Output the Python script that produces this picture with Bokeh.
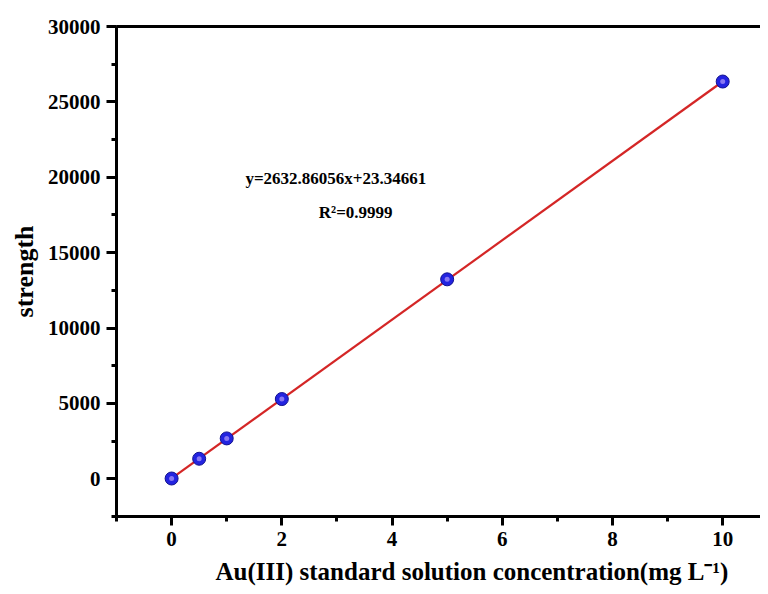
from bokeh.plotting import figure
from bokeh.models import Range1d, LinearAxis, Label, SingleIntervalTicker, FixedTicker, Title
from bokeh.embed import file_html
from bokeh.resources import INLINE

# data
conc = [0, 0.5, 1, 2, 5, 10]
strength = [20, 1330, 2680, 5290, 13230, 26350]
slope = 2632.86056
intercept = 23.34661
eq_text = "y=2632.86056x+23.34661"
r2_text = "R²=0.9999"
x_title = "Au(III) standard solution concentration(mg L⁻¹)"
y_title = "strength"

FONT = "Liberation Serif"

p = figure(width=760, height=594, output_backend="svg", toolbar_location=None,
           x_range=Range1d(-1, 10.686), y_range=Range1d(-2500, 30000),
           min_border_left=116, min_border_right=0, min_border_top=26,
           min_border_bottom=78)
p.outline_line_color = None
p.grid.visible = False
p.background_fill_color = "white"
p.border_fill_color = "white"

for ax in (p.xaxis[0], p.yaxis[0]):
    ax.axis_line_width = 3
    ax.axis_line_color = "black"
    ax.major_tick_line_width = 3
    ax.minor_tick_line_width = 3
    ax.major_tick_in = 0
    ax.minor_tick_in = 0
    ax.major_label_text_font = FONT
    ax.major_label_text_font_style = "bold"
    ax.major_label_text_font_size = "21px"
    ax.major_label_text_color = "black"
    ax.axis_label_text_font = FONT
    ax.axis_label_text_font_style = "bold"
    ax.axis_label_text_font_size = "26px"
    ax.axis_label_text_color = "black"

p.xaxis[0].ticker = SingleIntervalTicker(interval=2, num_minor_ticks=2)
p.xaxis[0].major_tick_out = 9
p.xaxis[0].minor_tick_out = 5
p.xaxis[0].major_label_standoff = 6

p.yaxis[0].ticker = SingleIntervalTicker(interval=5000, num_minor_ticks=2)
p.yaxis[0].major_tick_out = 10
p.yaxis[0].minor_tick_out = 5
p.yaxis[0].major_label_standoff = 6
p.yaxis[0].axis_label = y_title
p.yaxis[0].axis_label_standoff = 6

top = LinearAxis(ticker=FixedTicker(ticks=[]), major_label_text_font_size="0px",
                 axis_line_width=3, major_tick_out=0, minor_tick_out=0,
                 major_tick_in=0, minor_tick_in=0)
p.add_layout(top, "above")

xt = Title(text=x_title, align="left", offset=99, standoff=14,
           text_font=FONT, text_font_style="bold", text_font_size="25px",
           text_color="black")
p.add_layout(xt, "below")

# fit line
fx = [conc[0], conc[-1]]
fy = [slope * v + intercept for v in fx]
p.line(fx, fy, line_color="#d42626", line_width=2.2)

# spheres
p.scatter(conc, strength, size=13, fill_color="#2323e0", line_color="#12128f", line_width=1)
p.scatter(conc, strength, size=5, fill_color="#9a86f5", line_color=None, fill_alpha=0.85)

p.add_layout(Label(x=2.98, y=19940, text=eq_text, text_font=FONT, text_font_style="bold",
                   text_font_size="17px", text_align="center", text_baseline="middle",
                   text_color="black"))
p.add_layout(Label(x=3.34, y=17680, text=r2_text, text_font=FONT, text_font_style="bold",
                   text_font_size="17px", text_align="center", text_baseline="middle",
                   text_color="black"))

open("out.html", "w").write(file_html(p, INLINE))
